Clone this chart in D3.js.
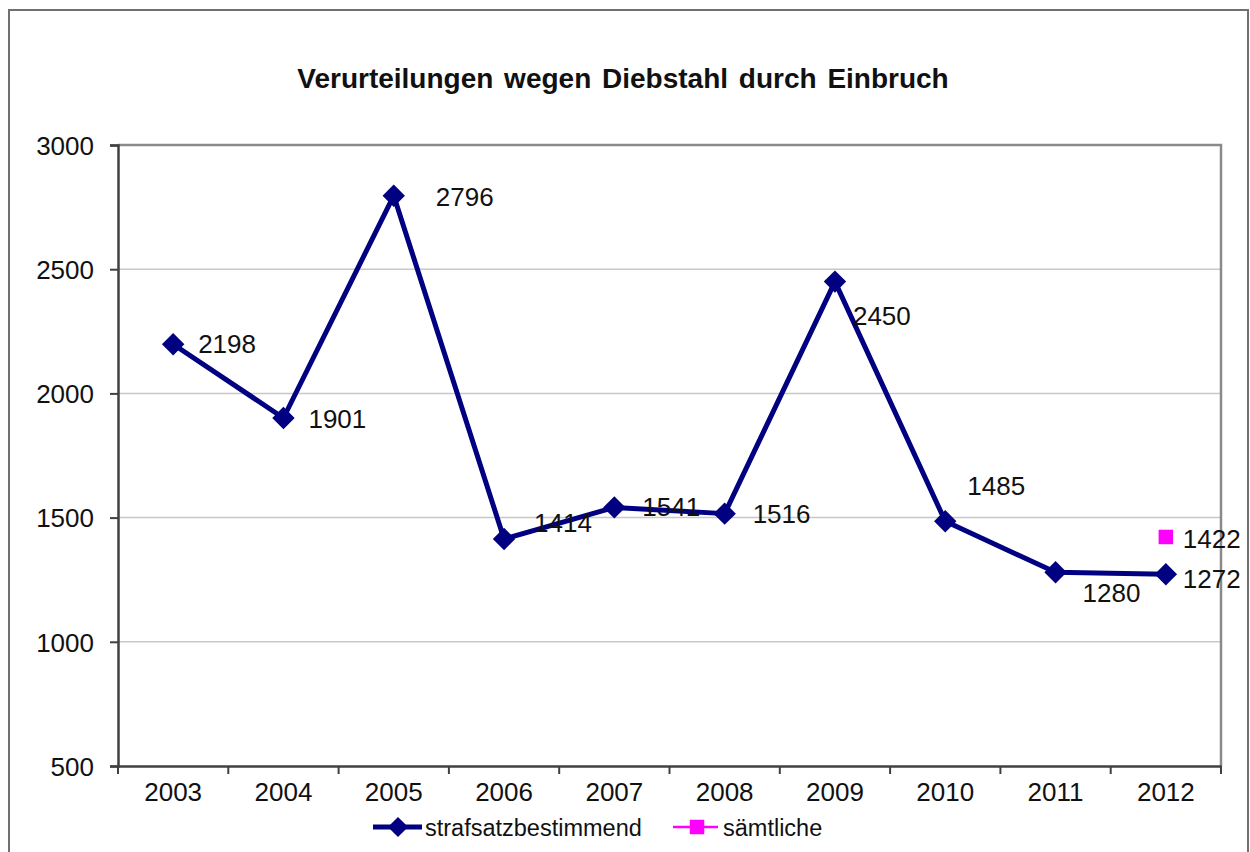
<!DOCTYPE html>
<html><head><meta charset="utf-8">
<script src="https://cdn.jsdelivr.net/npm/d3@7"></script>
<style>body{margin:0;background:#fff}svg{display:block}text{font-family:"Liberation Sans",Arial,sans-serif;fill:#111}</style>
</head><body><svg id="c" width="1250" height="852"></svg>
<script>
const title = "Verurteilungen wegen Diebstahl durch Einbruch";
const years = ["2003","2004","2005","2006","2007","2008","2009","2010","2011","2012"];
const strafsatz = [2198,1901,2796,1414,1541,1516,2450,1485,1280,1272];
const saemtlicheYears = ["2012"];
const saemtliche = [1422];
const yTicks = [500,1000,1500,2000,2500,3000];
const seriesNames = ["strafsatzbestimmend","sämtliche"];
// label offsets (dx, dy) relative to the point
const labelOffsets = [[25,9],[25,10],[42,10],[30,-7],[28,9],[28,9],[18,43],[22,-26],[27,30],[17,14]];
const labelOffsets2 = [[17,11]];

const svg = d3.select("#c");
const L=118, R=1221, T=145, B=766;
const x = d3.scaleBand().domain(years).range([L,R]);
const y = d3.scaleLinear().domain([500,3000]).range([B,T]);

// outer frame
svg.append("rect").attr("x",9).attr("y",10).attr("width",1239).attr("height",870)
  .attr("fill","none").attr("stroke","#707070").attr("stroke-width",2);

// title
svg.append("text").attr("x",623).attr("y",88).attr("text-anchor","middle")
  .attr("font-size",28).attr("font-weight","bold").attr("word-spacing",3).text(title);

// gridlines
svg.append("g").selectAll("line").data(yTicks.filter(d=>d>500 && d<3000)).join("line")
  .attr("x1",L).attr("x2",R).attr("y1",d=>y(d)).attr("y2",d=>y(d))
  .attr("stroke","#c8c8c8").attr("stroke-width",1.5);
// plot frame top & right
svg.append("path").attr("d",`M${L},${T}H${R}V${B}`).attr("fill","none")
  .attr("stroke","#8a8a8a").attr("stroke-width",2.5);

// y axis
const ya = svg.append("g").attr("transform",`translate(${L},0)`)
  .call(d3.axisLeft(y).tickValues(yTicks).tickSize(8).tickPadding(16).tickFormat(d3.format("d")));
ya.select(".domain").attr("stroke","#404040").attr("stroke-width",2.5);
ya.selectAll(".tick line").attr("stroke","#404040").attr("stroke-width",2);
ya.selectAll(".tick text").attr("font-size",26).attr("font-family","Liberation Sans, Arial, sans-serif").attr("fill","#111").attr("dy","0.36em");

// x axis
const xa = svg.append("g").attr("transform",`translate(0,${B})`)
  .call(d3.axisBottom(x).tickSize(0).tickPadding(30));
xa.select(".domain").attr("stroke","#404040").attr("stroke-width",2.5);
xa.selectAll(".tick text").attr("font-size",26).attr("font-family","Liberation Sans, Arial, sans-serif").attr("fill","#111").attr("dy","0.2em");
// x tick marks at band boundaries
svg.append("g").selectAll("line").data(years.concat(["end"])).join("line")
  .attr("x1",(d,i)=>L+i*x.step()).attr("x2",(d,i)=>L+i*x.step())
  .attr("y1",B).attr("y2",B+8).attr("stroke","#404040").attr("stroke-width",2);

const cx = d => x(d)+x.bandwidth()/2;
const navy = "#000080", mag = "#ff00ff";

// main line
svg.append("path").datum(strafsatz)
  .attr("d", d3.line().x((d,i)=>cx(years[i])).y(d=>y(d)))
  .attr("fill","none").attr("stroke",navy).attr("stroke-width",5).attr("stroke-linejoin","round");
const diamond = d3.symbol().type(d3.symbolDiamond2).size(320);
svg.append("g").selectAll("path").data(strafsatz).join("path")
  .attr("transform",(d,i)=>`translate(${cx(years[i])},${y(d)})`)
  .attr("d",diamond).attr("fill",navy);
svg.append("g").selectAll("text").data(strafsatz).join("text")
  .attr("x",(d,i)=>cx(years[i])+labelOffsets[i][0])
  .attr("y",(d,i)=>y(d)+labelOffsets[i][1])
  .attr("font-size",26).text(d=>d);

// sämtliche
const sq = d3.symbol().type(d3.symbolSquare).size(210);
svg.append("g").selectAll("path").data(saemtliche).join("path")
  .attr("transform",(d,i)=>`translate(${cx(saemtlicheYears[i])},${y(d)})`)
  .attr("d",sq).attr("fill",mag);
svg.append("g").selectAll("text").data(saemtliche).join("text")
  .attr("x",(d,i)=>cx(saemtlicheYears[i])+labelOffsets2[i][0])
  .attr("y",(d,i)=>y(d)+labelOffsets2[i][1])
  .attr("font-size",26).text(d=>d);

// legend
const lg = svg.append("g");
lg.append("line").attr("x1",373).attr("x2",422).attr("y1",827).attr("y2",827).attr("stroke",navy).attr("stroke-width",5);
lg.append("path").attr("transform","translate(398,827)").attr("d",d3.symbol().type(d3.symbolDiamond2).size(260)).attr("fill",navy);
lg.append("text").attr("x",425).attr("y",836).attr("font-size",23.5).text(seriesNames[0]);
lg.append("line").attr("x1",673).attr("x2",718).attr("y1",827).attr("y2",827).attr("stroke",mag).attr("stroke-width",2.5);
lg.append("path").attr("transform","translate(697,827)").attr("d",sq).attr("fill",mag);
lg.append("text").attr("x",723).attr("y",836).attr("font-size",23.5).text(seriesNames[1]);
</script></body></html>
